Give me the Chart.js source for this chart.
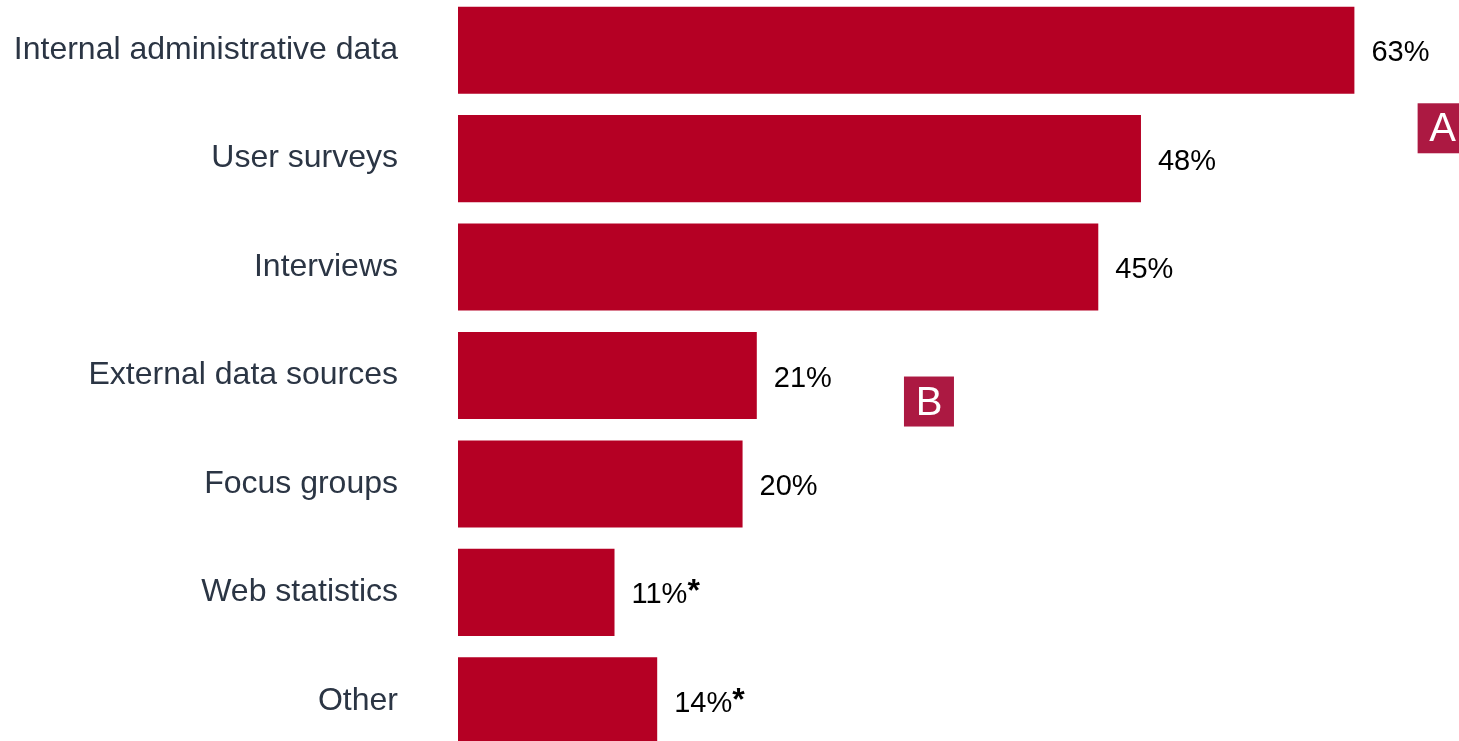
<!DOCTYPE html>
<html lang="en">
<head>
  <meta charset="UTF-8">
  <title>Data sources used</title>
  <script src="https://cdn.jsdelivr.net/npm/chart.js"></script>
  <style>
    html, body {
      margin: 0;
      padding: 0;
      background: #ffffff;
      overflow: hidden;
    }
    .wrap {
      position: relative;
      width: 1459px;
      height: 741px;
      overflow: hidden;
    }
    #sourcesChart {
      position: absolute;
      left: 0;
      top: -4px;
    }
  </style>
</head>
<body>
  <div class="wrap">
    <canvas id="sourcesChart" width="1459" height="759"></canvas>
  </div>

  <script>
    const categories = [
      'Internal administrative data',
      'User surveys',
      'Interviews',
      'External data sources',
      'Focus groups',
      'Web statistics',
      'Other'
    ];
    const shares = [63, 48, 45, 21, 20, 11, 14];
    const notes = ['', '', '', '', '', '*', '*'];

    // lettered markers: value on the x axis, position on the category axis
    const markers = [
      { letter: 'A', x: 69.2, y: 0.72 },
      { letter: 'B', x: 33.1, y: 3.24 }
    ];

    const barColor = '#b50024';
    const markerColor = '#ac1942';
    const labelColor = '#2b3544';
    const fontFamily = "'Liberation Sans', Arial, Helvetica, sans-serif";

    // percentage written after the end of each bar
    const valueLabels = {
      id: 'valueLabels',
      afterDatasetsDraw(chart) {
        const ctx = chart.ctx;
        const meta = chart.getDatasetMeta(0);
        ctx.save();
        ctx.textBaseline = 'middle';
        ctx.textAlign = 'left';
        meta.data.forEach((bar, i) => {
          const text = shares[i] + '%';
          const x = bar.x + 17;
          const y = bar.y + 3;
          ctx.font = '29px ' + fontFamily;
          ctx.fillStyle = '#000000';
          ctx.fillText(text, x, y);
          if (notes[i]) {
            const w = ctx.measureText(text).width;
            ctx.font = 'bold 32px ' + fontFamily;
            ctx.fillText(notes[i], x + w, y - 3);
          }
        });
        ctx.restore();
      }
    };

    const letterBoxes = {
      id: 'letterBoxes',
      afterDraw(chart) {
        const ctx = chart.ctx;
        const xs = chart.scales.x;
        const ys = chart.scales.y;
        const size = 50;
        ctx.save();
        markers.forEach(m => {
          const cx = xs.getPixelForValue(m.x);
          const cy = ys.getPixelForValue(m.y);
          ctx.fillStyle = markerColor;
          ctx.fillRect(cx - size / 2, cy - size / 2, size, size);
          ctx.fillStyle = '#ffffff';
          ctx.font = '40px ' + fontFamily;
          ctx.textAlign = 'center';
          ctx.textBaseline = 'middle';
          ctx.fillText(m.letter, cx, cy + 2);
        });
        ctx.restore();
      }
    };

    const ctx = document.getElementById('sourcesChart').getContext('2d');
    new Chart(ctx, {
      type: 'bar',
      data: {
        labels: categories,
        datasets: [{
          data: shares,
          backgroundColor: barColor,
          borderWidth: 0,
          categoryPercentage: 1,
          barPercentage: 0.803
        }]
      },
      options: {
        indexAxis: 'y',
        responsive: false,
        animation: false,
        devicePixelRatio: 1,
        layout: { padding: { left: 0, right: 5, top: 0, bottom: 0 } },
        plugins: {
          legend: { display: false },
          tooltip: { enabled: false }
        },
        scales: {
          x: {
            display: false,
            min: 0,
            max: 70
          },
          y: {
            afterFit(scale) {
              scale.width = 458;
              // labels sit beside the bars, no extra room above/below
              scale.paddingTop = 0;
              scale.paddingBottom = 0;
            },
            grid: { display: false, drawTicks: false },
            border: { display: false },
            ticks: {
              padding: 60,
              color: labelColor,
              font: { family: fontFamily, size: 32 }
            }
          }
        }
      },
      plugins: [valueLabels, letterBoxes]
    });
  </script>
</body>
</html>
